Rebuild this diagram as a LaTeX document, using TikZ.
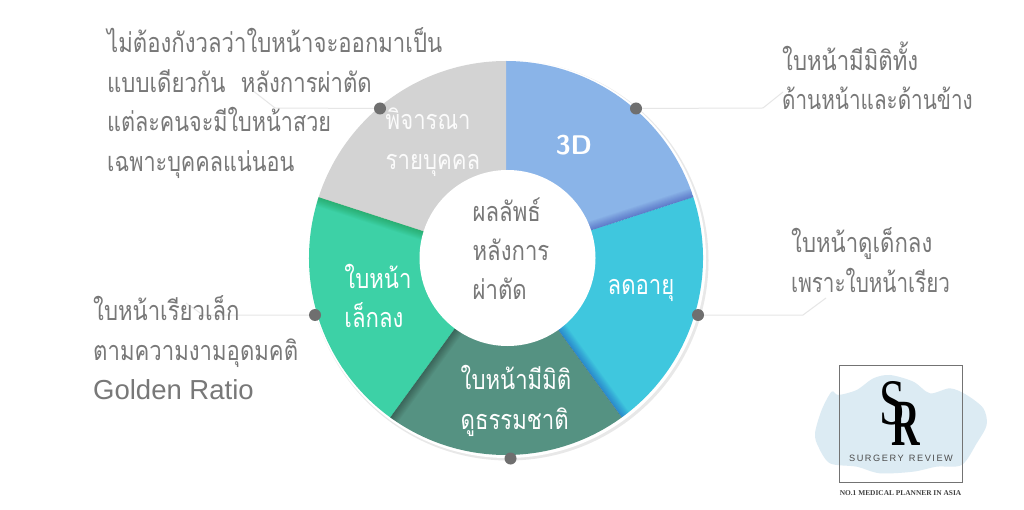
\documentclass[tikz,border=0pt]{standalone}
\usepackage{fontspec}
\setmainfont{Liberation Sans}
\newfontfamily\thai[Script=Thai,FakeStretch=0.82]{Loma}
\newfontfamily\thaiM[Script=Thai,FakeStretch=0.80]{Loma}
\newfontfamily\thaiN[Script=Thai,FakeStretch=0.765]{Loma}
\newfontfamily\logoserif{Liberation Serif}
\usetikzlibrary{calc}
\definecolor{cblue}{HTML}{8AB4E8}
\definecolor{ccyan}{HTML}{3FC7DE}
\definecolor{cdark}{HTML}{559282}
\definecolor{cgreen}{HTML}{3DD1A6}
\definecolor{cgrey}{HTML}{D3D3D3}
\definecolor{ctext}{HTML}{787878}
\definecolor{cline}{HTML}{E6E6E6}
\definecolor{cdot}{HTML}{6F6F6F}
\definecolor{cblob}{HTML}{DCEBF3}
\tikzset{
  x=1pt,y=-1pt,
  note/.style={font=\thai\fontsize{27}{39.5}\selectfont,text=ctext,align=left,anchor=west,inner sep=0pt},
  seglabel/.style={font=\thai\fontsize{27}{39.5}\selectfont,text=white,align=left,inner sep=0pt},
  dotnode/.style={circle,fill=cdot,draw=none,minimum size=12pt,inner sep=0pt},
  leader/.style={cline,line width=1pt}
}
\newcommand{\wedgeat}[2]{(506,258) -- ($(506,258)+(#1:197 and -197)$) arc[start angle=#1,end angle=#2,x radius=197,y radius=-197] -- cycle}
\newcommand{\softshadow}[3]{%
  \begin{scope}
  \clip #1;
  \foreach \w in {2,4,...,18}{\draw[line width=\w pt,color=#3,opacity=.035] (506,258) -- #2;}
  \end{scope}}
\begin{document}
\begin{tikzpicture}
\useasboundingbox (0,0) rectangle (1024,510);
\fill[white] (0,0) rectangle (1024,510);
% white/grey rim
\fill[black!9] (508.5,260.5) circle[radius=200];
\fill[white] (507,259) circle[radius=199];
% segments
\fill[cblue] \wedgeat{90}{18};
\fill[ccyan] \wedgeat{18}{-54};
\fill[cdark] \wedgeat{-54}{-126};
\fill[cgreen] \wedgeat{-126}{-198};
\fill[cgrey] \wedgeat{-198}{-270};
% edge shadows
\softshadow{\wedgeat{90}{18}}{(693.4,197.1)}{blue!55!black}
\softshadow{\wedgeat{18}{-54}}{(621.8,417.4)}{blue!70!black}
\softshadow{\wedgeat{-54}{-126}}{(390.2,417.4)}{black}
\softshadow{\wedgeat{-126}{-198}}{(318.6,197.1)}{green!40!black}
% centre
\node[circle,fill=white,minimum size=176pt,inner sep=0pt] (hub) at (507.5,258) {};
\node[font=\thai\fontsize{27}{39}\selectfont,text=ctext,align=left,inner sep=0pt] (hubtext) at (511,249) {ผลลัพธ์\\หลังการ\\ผ่าตัด};
% leaders
\node[dotnode] (d1) at (636,108.5) {};
\node[dotnode] (d2) at (698,315) {};
\node[dotnode] (d3) at (510.5,458.5) {};
\node[dotnode] (d4) at (315,315) {};
\node[dotnode] (d5) at (380,108.5) {};
\coordinate (e1a) at (763,108); \coordinate (e1b) at (783,92);
\coordinate (e2a) at (803,315); \coordinate (e2b) at (826,298);
\coordinate (e4a) at (203,315); \coordinate (e4b) at (186,303);
\coordinate (e5a) at (275,108); \coordinate (e5b) at (252,90);
\draw[leader] (d1) -- (e1a) -- (e1b);
\draw[leader] (d2) -- (e2a) -- (e2b);
\draw[leader] (d4) -- (e4a) -- (e4b);
\draw[leader] (d5) -- (e5a) -- (e5b);
% segment labels
\node[seglabel,font=\sffamily\bfseries\fontsize{27}{30}\selectfont] (s1) at (574,145) {3D};
\node[seglabel] (s2) at (641,290) {ลดอายุ};
\node[seglabel] (s3) at (516,401) {ใบหน้ามีมิติ\\ดูธรรมชาติ};
\node[seglabel] (s4) at (378,296) {ใบหน้า\\เล็กลง};
\node[seglabel,text=white!92!cgrey] (s5) at (433,142) {พิจารณา\\รายบุคคล};
% notes
\node[note] (n5) at (107,103) {ไม่ต้องกังวลว่าใบหน้าจะออกมาเป็น\\แบบเดียวกัน\hspace{8pt} หลังการผ่าตัด\\{\thaiM แต่ละคนจะมีใบหน้าสวย}\\{\thaiM เฉพาะบุคคลแน่นอน}};
\node[note] (n1) at (782,76) {ใบหน้ามีมิติทั้ง\\{\thaiN ด้านหน้าและด้านข้าง}};
\node[note] (n2) at (791,260) {ใบหน้าดูเด็กลง\\{\thaiN เพราะใบหน้าเรียว}};
\node[note] (n4) at (93,348) {ใบหน้าเรียวเล็ก\\ตามความงามอุดมคติ\\{\rmfamily\fontsize{27.5}{39.5}\selectfont Golden Ratio}};
% logo
\begin{scope}[shift={(780,350)},x=.3333pt,y=-.3333pt]
\fill[cblob] plot[smooth cycle,tension=.5] coordinates {(105,250) (125,180) (155,125) (175,135) (230,120) (280,85) (330,75) (400,95) (450,130) (510,115) (560,135) (610,175) (620,225) (590,280) (545,345) (470,350) (400,365) (300,370) (230,350) (150,340) (115,290)};
\end{scope}
\node[draw=black!55,line width=1pt,minimum width=123pt,minimum height=117pt,inner sep=0pt] (logo) at (900.5,423.5) {};
\node[font=\logoserif\fontsize{65}{65}\selectfont,inner sep=0pt,xscale=.72] (logoS) at (892.5,403) {S};
\node[font=\logoserif\bfseries\fontsize{66}{66}\selectfont,inner sep=0pt,xscale=.6] (logoR) at (906,424) {R};
\node[font=\fontsize{9.2}{11}\selectfont,text=black!70,inner sep=0pt] (logotext) at (901,458) {S\,U\,R\,G\,E\,R\,Y\;\;R\,E\,V\,I\,E\,W};
\node[font=\logoserif\bfseries\fontsize{7.4}{9}\selectfont,text=black!75,inner sep=0pt] (logotag) at (900.5,493) {NO.1 MEDICAL PLANNER IN ASIA};
\end{tikzpicture}
\end{document}
